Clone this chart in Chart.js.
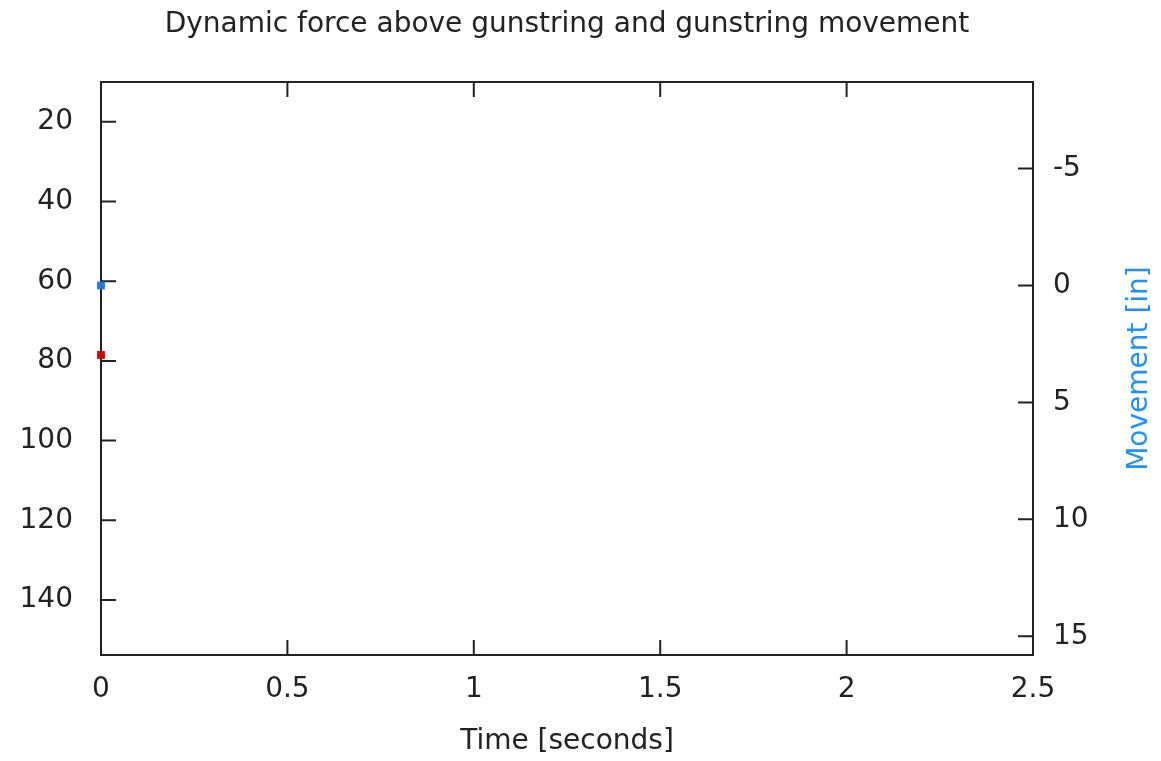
<!DOCTYPE html>
<html>
<head>
<meta charset="utf-8">
<title>Dynamic force above gunstring and gunstring movement</title>
<script src="https://cdn.jsdelivr.net/npm/chart.js@4"></script>
<style>
    html, body { margin: 0; padding: 0; background: #fff; }
    #wrap { width: 1161px; height: 761px; position: relative; }
</style>
</head>
<body>
<div id="wrap"><canvas id="forceChart"></canvas></div>
<script>
'use strict';

// time [seconds]
var timeValues     = [0];
var forceValues    = [78.5];   // left axis
var movementValues = [0];      // right axis, inches

var timeTicks     = [0, 0.5, 1, 1.5, 2, 2.5];
var forceTicks    = [20, 40, 60, 80, 100, 120, 140];
var movementTicks = [-5, 0, 5, 10, 15];

var inkColor  = '#222222';
var forceRed  = '#d40000';
var moveBlue  = '#1a7ae6';
var labelBlue = '#1e90ff';
var fontName  = "'DejaVu Sans', sans-serif";

function toPoints(xs, ys) {
    return xs.map(function (x, i) { return { x: x, y: ys[i] }; });
}

function fixTicks(list) {
    return function (scale) {
        scale.ticks = list.map(function (v) { return { value: v }; });
    };
}

// gnuplot-like frame with inward tick marks, drawn below the points
var framePlugin = {
    id: 'frame',
    beforeDatasetsDraw: function (chart) {
        var ctx = chart.ctx,
            a = chart.chartArea,
            len = 15;
        ctx.save();
        ctx.strokeStyle = inkColor;
        ctx.lineWidth = 2;
        ctx.beginPath();
        ctx.rect(a.left, a.top, a.right - a.left, a.bottom - a.top);
        ctx.stroke();

        ctx.beginPath();
        chart.scales.x.ticks.forEach(function (t) {
            var px = chart.scales.x.getPixelForValue(t.value);
            ctx.moveTo(px, a.bottom); ctx.lineTo(px, a.bottom - len);
            ctx.moveTo(px, a.top);    ctx.lineTo(px, a.top + len);
        });
        chart.scales.y.ticks.forEach(function (t) {
            var py = chart.scales.y.getPixelForValue(t.value);
            ctx.moveTo(a.left, py); ctx.lineTo(a.left + len, py);
        });
        chart.scales.y2.ticks.forEach(function (t) {
            var py = chart.scales.y2.getPixelForValue(t.value);
            ctx.moveTo(a.right, py); ctx.lineTo(a.right - len, py);
        });
        ctx.stroke();

        // right axis title reads bottom-to-top
        ctx.translate(1140, (a.top + a.bottom) / 2);
        ctx.rotate(-Math.PI / 2);
        ctx.fillStyle = labelBlue;
        ctx.font = '28px ' + fontName;
        ctx.textAlign = 'center';
        ctx.textBaseline = 'middle';
        ctx.fillText('Movement [in]', 0, 0);
        ctx.restore();
    }
};

var FORCECHART = document.getElementById('forceChart');

var forceChart = new Chart(FORCECHART, {
    type: 'scatter',
    data: {
        datasets: [
            {
                label: 'Force',
                data: toPoints(timeValues, forceValues),
                yAxisID: 'y',
                pointStyle: 'rect',
                pointRadius: 5.5,
                pointBorderWidth: 0,
                backgroundColor: forceRed,
                borderColor: forceRed,
                clip: false
            },
            {
                label: 'Movement',
                data: toPoints(timeValues, movementValues),
                yAxisID: 'y2',
                pointStyle: 'rect',
                pointRadius: 5.5,
                pointBorderWidth: 0,
                backgroundColor: moveBlue,
                borderColor: moveBlue,
                clip: false
            }
        ]
    },
    options: {
        responsive: true,
        maintainAspectRatio: false,
        animation: false,
        events: [],
        layout: { padding: 0 },
        plugins: {
            legend: { display: false },
            tooltip: { enabled: false },
            title: {
                display: true,
                fullSize: false,
                text: 'Dynamic force above gunstring and gunstring movement',
                color: inkColor,
                font: { family: fontName, size: 28, weight: 'normal', lineHeight: 1.2 },
                padding: { top: 8, bottom: 40.4 }
            }
        },
        scales: {
            x: {
                type: 'linear',
                position: 'bottom',
                min: 0,
                max: 2.5,
                afterBuildTicks: fixTicks(timeTicks),
                afterFit: function (scale) { scale.height = 106; },
                grid: { display: false, drawTicks: false },
                border: { display: false },
                ticks: {
                    color: inkColor,
                    padding: 18,
                    maxRotation: 0,
                    font: { family: fontName, size: 28 },
                    callback: function (v) { return String(v); }
                },
                title: {
                    display: true,
                    text: 'Time [seconds]',
                    color: inkColor,
                    font: { family: fontName, size: 28 },
                    padding: { top: 0, bottom: 2 }
                }
            },
            y: {
                type: 'linear',
                position: 'left',
                reverse: true,
                min: 10,
                max: 153.8,
                afterBuildTicks: fixTicks(forceTicks),
                afterFit: function (scale) { scale.width = 101; },
                grid: { display: false, drawTicks: false },
                border: { display: false },
                ticks: {
                    color: inkColor,
                    padding: 28,
                    font: { family: fontName, size: 28 }
                }
            },
            y2: {
                type: 'linear',
                position: 'right',
                reverse: true,
                min: -8.7,
                max: 15.8,
                afterBuildTicks: fixTicks(movementTicks),
                afterFit: function (scale) { scale.width = 128; },
                grid: { display: false, drawTicks: false },
                border: { display: false },
                ticks: {
                    color: inkColor,
                    padding: 20,
                    font: { family: fontName, size: 28 }
                }
            }
        }
    },
    plugins: [framePlugin]
});
</script>
</body>
</html>
